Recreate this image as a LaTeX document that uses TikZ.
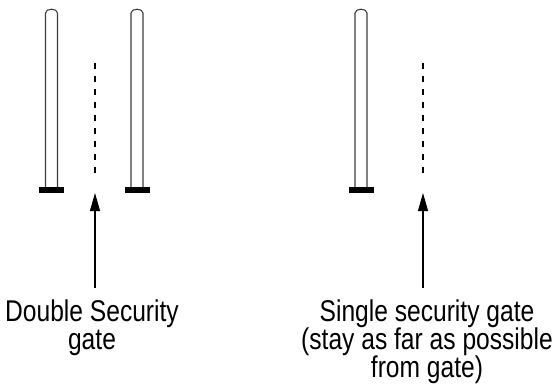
\documentclass[tikz,border=0pt]{standalone}
\usepackage{fontspec}
\usepackage{tikz}
\usetikzlibrary{arrows.meta,positioning,calc}
\newfontfamily\gatefont{Liberation Sans}[FakeStretch=0.82]
\definecolor{postline}{RGB}{60,60,60}
\newcommand{\gatepost}[1]{%
  \draw[post] (#1-6,187) -- (#1-6,13) .. controls (#1-6,8) and (#1+6,8) .. (#1+6,13) -- (#1+6,187);
  \fill (#1-12.5,187) rectangle (#1+12.5,193);
}

\begin{document}
\begin{tikzpicture}[x=1pt,y=-1pt,
    post/.style={postline, line width=1.1pt},
    walkline/.style={line width=1.1pt, dash pattern=on 6pt off 7pt},
    pointer/.style={line width=1.1pt, -{Triangle[length=18pt,width=10pt]}},
    every node/.append style={font=\gatefont\fontsize{30}{28}\selectfont, align=center, inner sep=0pt, inner ysep=12pt}]
    \useasboundingbox (0,0) rectangle (556,386);
    % double gate
    \gatepost{51.5}
    \gatepost{137}
    \draw[walkline] (95,63) -- (95,173);
    \coordinate (dbltip) at (95,193);
    \node[anchor=north] (dbllabel) at (92,288) {Double Security\\gate};
    \draw[pointer] (dbllabel.north -| dbltip) -- (dbltip);
    % single gate
    \gatepost{361}
    \draw[walkline] (423,63) -- (423,173);
    \coordinate (sngtip) at (423,193);
    \node[anchor=north] (snglabel) at (427,288) {Single security gate\\(stay as far as possible\\from gate)};
    \draw[pointer] (snglabel.north -| sngtip) -- (sngtip);
  \end{tikzpicture}
\end{document}
